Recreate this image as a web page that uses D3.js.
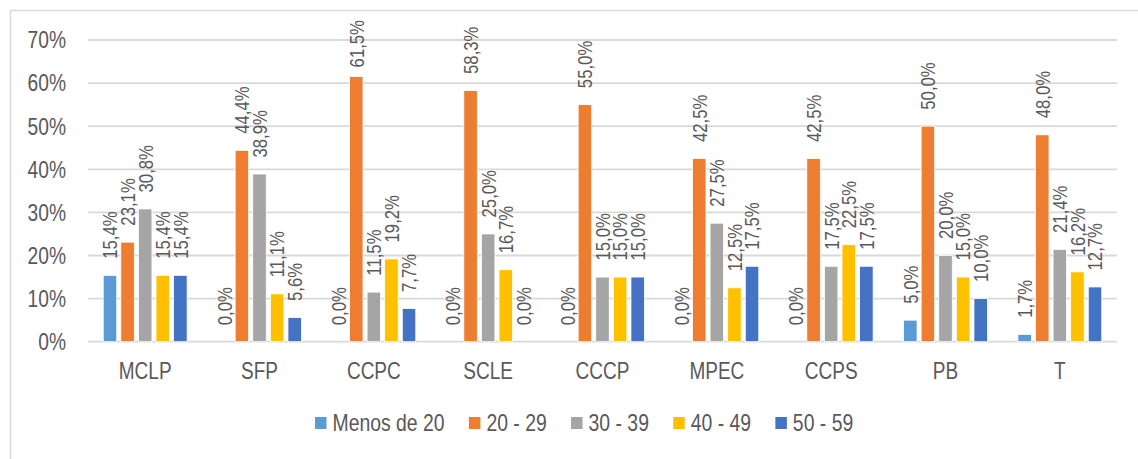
<!DOCTYPE html>
<html>
<head>
<meta charset="utf-8">
<script src="https://cdn.jsdelivr.net/npm/d3@7"></script>
<style>
  html, body { margin: 0; padding: 0; background: #fff; }
  svg { display: block; }
  text { font-family: "Liberation Sans", Arial, sans-serif; fill: #595959; }
</style>
</head>
<body>
<svg id="chart" width="1138" height="459"></svg>
<script>
// Age distribution per program, in percent
const categories = ["MCLP", "SFP", "CCPC", "SCLE", "CCCP", "MPEC", "CCPS", "PB", "T"];
const seriesNames = ["Menos de 20", "20 - 29", "30 - 39", "40 - 49", "50 - 59"];
const menos20 = [15.4, 0.0, 0.0, 0.0, 0.0, 0.0, 0.0, 5.0, 1.7];
const v20_29  = [23.1, 44.4, 61.5, 58.3, 55.0, 42.5, 42.5, 50.0, 48.0];
const v30_39  = [30.8, 38.9, 11.5, 25.0, 15.0, 27.5, 17.5, 20.0, 21.4];
const v40_49  = [15.4, 11.1, 19.2, 16.7, 15.0, 12.5, 22.5, 15.0, 16.2];
const v50_59  = [15.4, 5.6, 7.7, 0.0, 15.0, 17.5, 17.5, 10.0, 12.7];
const yTicks  = [0, 10, 20, 30, 40, 50, 60, 70];
const colors  = ["#5B9BD5", "#ED7D31", "#A5A5A5", "#FFC000", "#4472C4"];

const seriesValues = [menos20, v20_29, v30_39, v40_49, v50_59];
const data = categories.map((c, i) => ({
  category: c,
  values: seriesNames.map((s, j) => ({ series: s, idx: j, value: seriesValues[j][i] }))
}));

const svg = d3.select("#chart");
const fmt = v => v.toFixed(1).replace(".", ",") + "%";
const SY = 1.22;     // horizontal text: tall, condensed lettering
const NARROW = 0.82; // rotated labels: condensed along the text direction

// chart frame (continues past the right and bottom edges)
svg.append("rect")
  .attr("x", 10.5).attr("y", 10.5)
  .attr("width", 1200).attr("height", 500)
  .attr("fill", "#fff").attr("stroke", "#d9d9d9").attr("stroke-width", 1.5);

const plot = { left: 88, right: 1117, top: 40, bottom: 341.7, labelTop: 20 };

const x0 = d3.scaleBand().domain(categories).range([plot.left, plot.right]);
const x1 = d3.scaleBand().domain(seriesNames).range([-41.95, 41.95]).paddingInner(0.233);
const y = d3.scaleLinear().domain([0, 70]).range([plot.bottom, plot.top]);

// horizontal gridlines
svg.append("g").selectAll("line").data(yTicks).join("line")
  .attr("x1", plot.left).attr("x2", plot.right)
  .attr("y1", d => y(d)).attr("y2", d => y(d))
  .attr("stroke", "#d9d9d9").attr("stroke-width", 1.8);

// y axis labels
svg.append("g").selectAll("text").data(yTicks).join("text")
  .attr("transform", d => `translate(66,${y(d) + 8.3}) scale(1,${SY})`)
  .attr("text-anchor", "end").style("font-size", "19.2px")
  .text(d => d + "%");

// bars
const groups = svg.append("g").selectAll("g").data(data).join("g")
  .attr("transform", d => `translate(${x0(d.category) + x0.bandwidth() / 2},0)`);

groups.selectAll("rect").data(d => d.values).join("rect")
  .attr("x", d => x1(d.series))
  .attr("width", x1.bandwidth())
  .attr("y", d => y(d.value))
  .attr("height", d => y(0) - y(d.value))
  .attr("fill", d => colors[d.idx])
  .attr("stroke", "#fff").attr("stroke-width", 0.8);

// rotated value labels, kept inside the chart's upper edge
const labels = groups.selectAll("text").data(d => d.values).join("text")
  .attr("dy", "0.36em")
  .attr("text-anchor", "start")
  .style("font-size", "20.4px")
  .text(d => fmt(d.value));
labels.attr("transform", function (d) {
  const len = this.getComputedTextLength() * NARROW;
  const start = Math.max(y(d.value) - 16.5, plot.labelTop + len);
  return `translate(${x1(d.series) + x1.bandwidth() / 2},${start}) rotate(-90) scale(${NARROW},1)`;
});

// category labels
svg.append("g").selectAll("text").data(categories).join("text")
  .attr("transform", d => `translate(${x0(d) + x0.bandwidth() / 2},378.5) scale(1,${SY})`)
  .attr("text-anchor", "middle").style("font-size", "19px")
  .text(d => d);

// legend
const legend = svg.append("g");
let lx = 315;
seriesNames.forEach((s, i) => {
  legend.append("rect").attr("x", lx).attr("y", 417).attr("width", 11.5).attr("height", 12)
    .attr("fill", colors[i]);
  const t = legend.append("text")
    .attr("transform", `translate(${lx + 17.5},431) scale(1,${SY})`)
    .style("font-size", "19.4px").text(s);
  lx += 17.5 + t.node().getComputedTextLength() + 24.3;
});
</script>
</body>
</html>
